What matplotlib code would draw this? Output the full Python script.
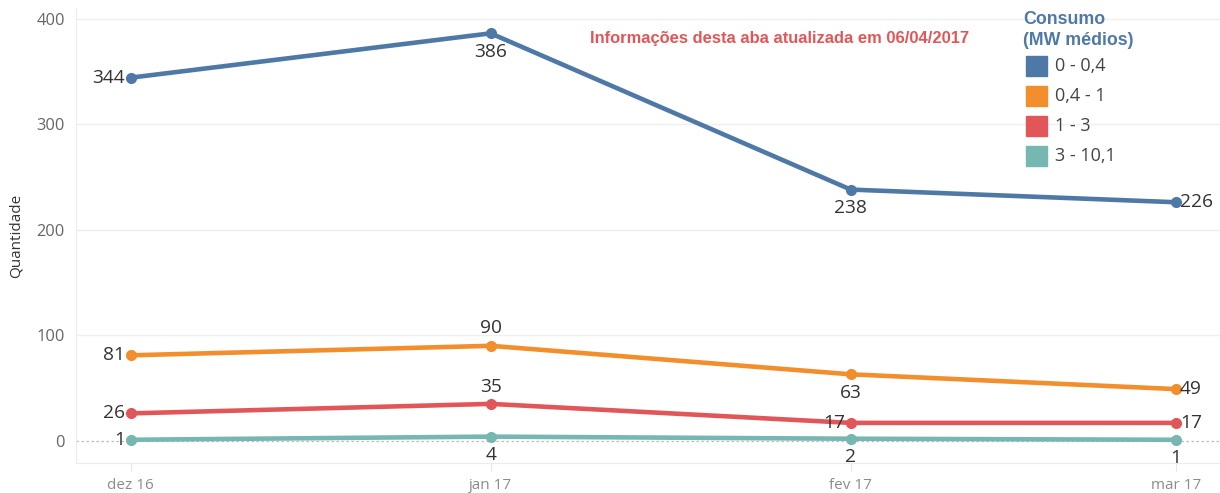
import matplotlib
matplotlib.use("Agg")
import matplotlib.pyplot as plt
import matplotlib.dates as mdates
from matplotlib.patches import Rectangle
import datetime as dt

months = [dt.date(2016, 12, 1), dt.date(2017, 1, 1), dt.date(2017, 2, 1), dt.date(2017, 3, 1)]
month_labels = ["dez 16", "jan 17", "fev 17", "mar 17"]
series_names = ["0 - 0,4", "0,4 - 1", "1 - 3", "3 - 10,1"]
s_0_04 = [344, 386, 238, 226]
s_04_1 = [81, 90, 63, 49]
s_1_3 = [26, 35, 17, 17]
s_3_101 = [1, 4, 2, 1]
series_values = [s_0_04, s_04_1, s_1_3, s_3_101]
colors = ["#4e79a7", "#f28e2b", "#e15759", "#76b7b2"]
# label placement per point: l=left, r=right, a=above, b=below
placements = [
    ["l", "b", "b", "r"],
    ["l", "a", "b", "r"],
    ["l", "a", "l", "r"],
    ["l", "b", "b", "b"],
]
yticks = [0, 100, 200, 300, 400]

FONT = ["Open Sans", "DejaVu Sans"]
plt.rcParams["font.family"] = FONT

fig = plt.figure(figsize=(12.2, 4.93), dpi=100)
ax = fig.add_axes([76 / 1220, 30 / 493, 1 - 76 / 1220, (463 - 8) / 493])

x = mdates.date2num(months)
day = 1.0
ax.set_xlim(x[0] - 4.7 * day, x[-1] + 3.8 * day)
ax.set_ylim(-21, 410)

for v in yticks[1:]:
    ax.axhline(v, color="#efefef", lw=1, zorder=0)
ax.axhline(0, color="#bdbdbd", lw=0.9, ls=(0, (2, 2)), zorder=0.5)

for vals, col, plc in zip(series_values, colors, placements):
    ax.plot(x, vals, color=col, lw=3.3, marker="o", ms=7, solid_capstyle="round", zorder=2)
    for xi, yi, p in zip(x, vals, plc):
        if p == "l":
            off, ha, va = (-4, 0), "right", "center"
        elif p == "r":
            off, ha, va = (3, 0), "left", "center"
        elif p == "a":
            off, ha, va = (0, 6), "center", "bottom"
        else:
            off, ha, va = (0, -7), "center", "top"
        ax.annotate(str(yi), (xi, yi), xytext=off, textcoords="offset points",
                    ha=ha, va=va, fontsize=13.8, color="#333333", zorder=3)

ax.set_xticks(x)
ax.set_xticklabels(month_labels)
ax.set_yticks(yticks)
ax.tick_params(axis="x", colors="#e6e6e6", labelcolor="#8c8c8c", labelsize=11, length=6, pad=5)
ax.tick_params(axis="y", colors="#e6e6e6", labelcolor="#666666", labelsize=11.8, length=0, pad=8)
for s in ["top", "right"]:
    ax.spines[s].set_visible(False)
ax.spines["left"].set_color("#ececec")
ax.spines["bottom"].set_color("#ececec")
ax.set_ylabel("Quantidade", fontsize=11, color="#333333", labelpad=9)

fig.text(590 / 1220, 1 - 38 / 493, "Informações desta aba atualizada em 06/04/2017",
         family=["Liberation Sans", "DejaVu Sans"], fontweight="bold", fontsize=11.9,
         color="#e15759", ha="left", va="center")

# legend
fig.text(1023 / 1220, 1 - 11 / 493, "Consumo\n(MW médios)", family=["Liberation Sans", "DejaVu Sans"],
         fontweight="bold", fontsize=12.8, color="#4e79a7", ha="left", va="top", linespacing=1.3)
for i, (name, col) in enumerate(zip(series_names, colors)):
    yc = 66 + 30 * i
    fig.add_artist(Rectangle((1026 / 1220, 1 - (yc + 10) / 493), 21 / 1220, 20 / 493,
                             transform=fig.transFigure, color=col))
    fig.text(1055 / 1220, 1 - yc / 493, name, fontsize=13, color="#444444", ha="left", va="center")

fig.savefig("out.png", dpi=100)
